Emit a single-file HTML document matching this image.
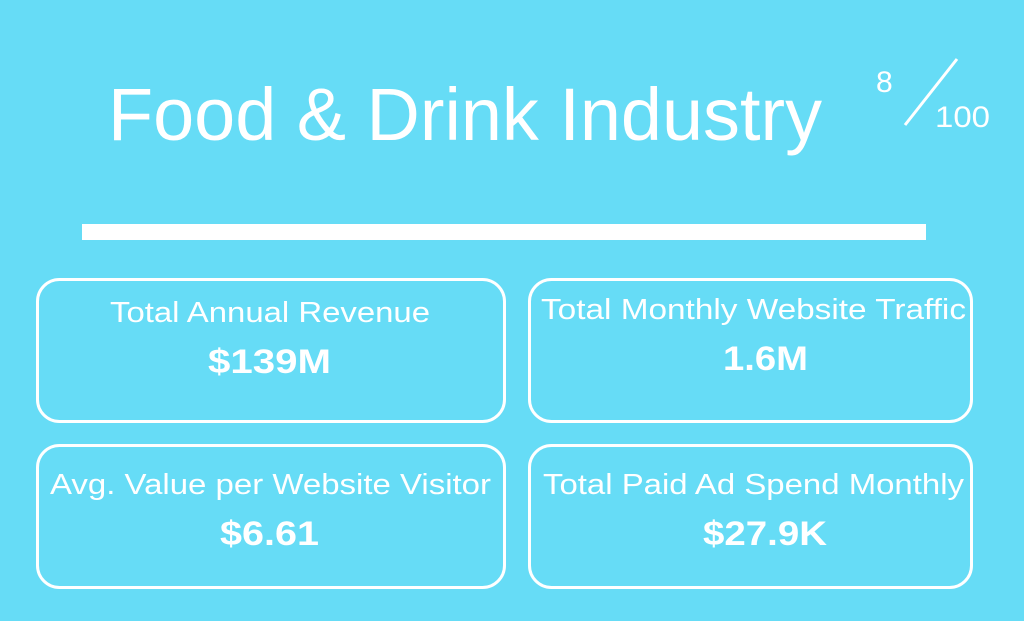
<!DOCTYPE html>
<html><head><style>html,body{margin:0;padding:0;background:#66dcf6;}svg{display:block}</style></head>
<body>
<svg width="1024" height="621" viewBox="0 0 1024 621" xmlns="http://www.w3.org/2000/svg" font-family="Liberation Sans, sans-serif" fill="#fff">
<rect width="1024" height="621" fill="#66dcf6"/>
<text x="108" y="140" font-size="74" textLength="714" lengthAdjust="spacingAndGlyphs">Food &amp; Drink Industry</text>
<text x="876" y="92" font-size="30">8</text>
<line x1="905" y1="125" x2="957" y2="59" stroke="#fff" stroke-width="3"/>
<text x="935" y="127" font-size="30" textLength="55" lengthAdjust="spacingAndGlyphs">100</text>
<rect x="82" y="224" width="844" height="16" fill="#fff"/>
<g fill="none" stroke="#fff" stroke-width="3">
<rect x="37.5" y="279.5" width="467" height="142" rx="22"/>
<rect x="529.5" y="279.5" width="442" height="142" rx="22"/>
<rect x="37.5" y="445.5" width="467" height="142" rx="22"/>
<rect x="529.5" y="445.5" width="442" height="142" rx="22"/>
</g>
<g font-size="29">
<text x="110" y="322" textLength="320" lengthAdjust="spacingAndGlyphs">Total Annual Revenue</text>
<text x="541" y="319" textLength="425" lengthAdjust="spacingAndGlyphs">Total Monthly Website Traffic</text>
<text x="50" y="494" textLength="441" lengthAdjust="spacingAndGlyphs">Avg. Value per Website Visitor</text>
<text x="543" y="494" textLength="421" lengthAdjust="spacingAndGlyphs">Total Paid Ad Spend Monthly</text>
</g>
<g font-size="34" font-weight="bold">
<text x="208" y="373" textLength="123" lengthAdjust="spacingAndGlyphs">$139M</text>
<text x="723" y="370" textLength="85" lengthAdjust="spacingAndGlyphs">1.6M</text>
<text x="220" y="545" textLength="99" lengthAdjust="spacingAndGlyphs">$6.61</text>
<text x="703" y="545" textLength="124" lengthAdjust="spacingAndGlyphs">$27.9K</text>
</g>
</svg>
</body></html>
